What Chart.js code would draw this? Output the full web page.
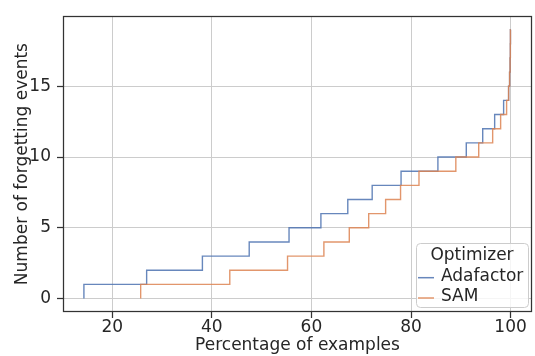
<!DOCTYPE html>
<html lang="en">
<head>
    <meta charset="UTF-8">
    <title>Forgetting events</title>
    <script src="https://cdn.jsdelivr.net/npm/chart.js"></script>
    <style>
        html, body {
            margin: 0;
            padding: 0;
            background: #ffffff;
        }
        .chart-container {
            position: relative;
            width: 535px;
            height: 356px;
        }
    </style>
</head>
<body>
    <div class="chart-container">
        <canvas id="forgetChart" width="535" height="356"></canvas>
    </div>

    <script>
        // number of forgetting events (y levels)
        const forgetCounts = [0, 1, 2, 3, 4, 5, 6, 7, 8, 9, 10, 11, 12, 13, 14, 15, 16, 17, 18, 19];

        // percentage of examples where each curve rises from level k to k+1
        const adafactorPct = [14.3, 26.9, 38.1, 47.5, 55.5, 61.9, 67.3, 72.2, 78.0, 85.4,
                              91.1, 94.4, 96.8, 98.6, 99.6, 99.8, 99.9, 99.95, 99.97, 100];
        const samPct = [25.7, 43.6, 55.2, 62.5, 67.6, 71.5, 74.9, 77.9, 81.6, 89.0,
                        93.6, 96.4, 98.0, 99.2, 99.6, 99.8, 99.9, 99.95, 99.97, 100];

        const xTicks = [20, 40, 60, 80, 100];
        const yTicks = [0, 5, 10, 15];

        const textColor = '#262626';
        const font17 = { family: 'DejaVu Sans', size: 17 };

        const toPoints = (xs) => xs.map((x, i) => ({ x: x, y: forgetCounts[i] }));

        // top/right spines + matplotlib style legend inside the axes
        const framePlugin = {
            id: 'frame',
            afterDatasetsDraw(chart) {
                const ctx = chart.ctx;
                const a = chart.chartArea;
                ctx.save();
                ctx.strokeStyle = '#333333';
                ctx.lineWidth = 1.25;
                ctx.strokeRect(Math.round(a.left) + 0.5, Math.round(a.top) + 0.5,
                    Math.round(a.right - a.left) - 1, Math.round(a.bottom - a.top) - 1);

                // legend
                const w = 112, h = 64;
                const x = a.right - 4 - w;
                const y = a.bottom - 5 - h;
                ctx.beginPath();
                ctx.roundRect(x + 0.5, y + 0.5, w, h, 4);
                ctx.fillStyle = 'rgba(255,255,255,0.8)';
                ctx.fill();
                ctx.strokeStyle = '#cccccc';
                ctx.lineWidth = 1;
                ctx.stroke();

                ctx.font = '17px "DejaVu Sans"';
                ctx.fillStyle = textColor;
                ctx.textBaseline = 'alphabetic';
                ctx.textAlign = 'center';
                ctx.fillText('Optimizer', x + w / 2, y + 17);

                ctx.textAlign = 'left';
                chart.data.datasets.forEach((ds, i) => {
                    const base = y + 37.7 + i * 20.3;
                    ctx.strokeStyle = ds.borderColor;
                    ctx.lineWidth = 1.5;
                    ctx.beginPath();
                    ctx.moveTo(x + 2, base - 3);
                    ctx.lineTo(x + 18, base - 3);
                    ctx.stroke();
                    ctx.fillStyle = textColor;
                    ctx.fillText(ds.label, x + 25, base);
                });
                ctx.restore();
            }
        };

        const forgetChart = new Chart(document.getElementById('forgetChart'), {
            type: 'line',
            data: {
                datasets: [{
                    label: 'Adafactor',
                    data: toPoints(adafactorPct),
                    borderColor: 'rgba(76,114,176,0.85)',
                    borderWidth: 1.4,
                    stepped: 'after',
                    pointRadius: 0,
                    fill: false,
                    order: 1
                }, {
                    label: 'SAM',
                    data: toPoints(samPct),
                    borderColor: 'rgba(221,132,82,0.85)',
                    borderWidth: 1.4,
                    stepped: 'after',
                    pointRadius: 0,
                    fill: false,
                    order: 0
                }]
            },
            options: {
                responsive: false,
                animation: false,
                maintainAspectRatio: false,
                layout: { padding: { top: 7, right: 3, left: 0, bottom: 0 } },
                plugins: {
                    legend: { display: false },
                    tooltip: { enabled: false }
                },
                scales: {
                    x: {
                        type: 'linear',
                        min: 10.1,
                        max: 104.3,
                        afterBuildTicks: (axis) => { axis.ticks = xTicks.map(v => ({ value: v })); },
                        afterFit: (axis) => { axis.height = 44; },
                        border: { display: false },
                        grid: { color: '#cccccc', lineWidth: 1, tickLength: 6, tickColor: '#333333', tickWidth: 1.25 },
                        ticks: { color: textColor, font: font17, padding: -1, maxRotation: 0 },
                        title: {
                            display: true,
                            text: 'Percentage of examples',
                            color: textColor,
                            font: font17,
                            padding: { top: 0, bottom: 0 }
                        }
                    },
                    y: {
                        min: -0.95,
                        max: 19.95,
                        afterBuildTicks: (axis) => { axis.ticks = yTicks.map(v => ({ value: v })); },
                        afterFit: (axis) => { axis.width = 63; },
                        border: { display: false },
                        grid: { color: '#cccccc', lineWidth: 1, tickLength: 6, tickColor: '#333333', tickWidth: 1.25 },
                        ticks: { color: textColor, font: font17, padding: 6 },
                        title: {
                            display: true,
                            text: 'Number of forgetting events',
                            color: textColor,
                            font: font17,
                            padding: { top: 12, bottom: 0 }
                        }
                    }
                }
            },
            plugins: [framePlugin]
        });
    </script>
</body>
</html>
